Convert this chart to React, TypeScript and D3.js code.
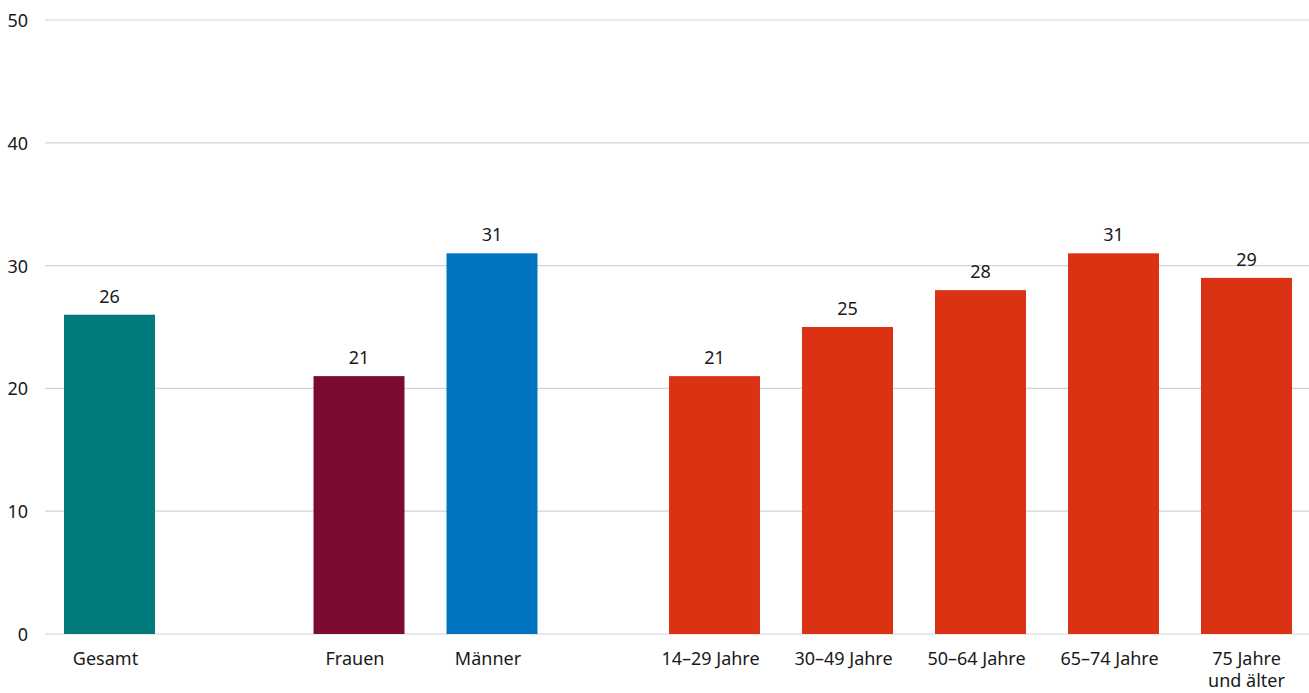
import * as d3 from "d3";

const categories = [
  "Gesamt",
  "Frauen",
  "Männer",
  "14–29 Jahre",
  "30–49 Jahre",
  "50–64 Jahre",
  "65–74 Jahre",
  "75 Jahre und älter",
];
const values = [26, 21, 31, 21, 25, 28, 31, 29];
const groups = [0, 1, 1, 2, 2, 2, 2, 2];
const groupColors = ["#007a7c", "#7b0b2f", "#0073c1", "#dc3214"];
const yTicks = [0, 10, 20, 30, 40, 50];

const width = 1309;
const height = 693;
const marginLeft = 45;
const marginTop = 20;
const marginBottom = 59;

// extra space between the groups, in bar slots
const groupGaps = [0, 0.876, 0.673];

const App = () => {
  // slot position of every bar: its index plus the gaps before its group
  const slots = categories.map((_, i) => {
    let gap = 0;
    for (let g = 1; g <= groups[i]; g++) gap += groupGaps[g];
    return i + gap;
  });
  const lastSlot = slots[slots.length - 1];
  const slotWidth = (width - marginLeft) / (lastSlot + 0.955);
  const x = d3
    .scaleLinear()
    .domain([0, lastSlot])
    .range([marginLeft + slotWidth * 0.485, width - slotWidth * 0.47]);
  const barWidth = slotWidth * 0.684;

  const y = d3
    .scaleLinear()
    .domain([0, 50])
    .range([height - marginBottom, marginTop]);

  const colorOf = (i: number) =>
    i === 0 ? groupColors[0] : i === 1 ? groupColors[1] : i === 2 ? groupColors[2] : groupColors[3];

  return (
    <svg
      width={width}
      height={height}
      style={{ position: "absolute", left: 0, top: 0 }}
      fontFamily="'Noto Sans', sans-serif"
    >
      <g>
        {yTicks.map((t) => (
          <g key={t}>
            <line
              x1={marginLeft}
              x2={width}
              y1={y(t)}
              y2={y(t)}
              stroke="#d3d3d3"
              strokeWidth={1.2}
            />
            <text
              x={28}
              y={y(t)}
              textAnchor="end"
              dominantBaseline="central"
              fontSize={18}
              fill="#1a1a1a"
            >
              {t}
            </text>
          </g>
        ))}
      </g>
      <g>
        {categories.map((c, i) => {
          const cx = x(slots[i]);
          return (
            <g key={c}>
              <rect
                x={cx - barWidth / 2}
                y={y(values[i])}
                width={barWidth}
                height={y(0) - y(values[i])}
                fill={colorOf(i)}
              />
              <text
                x={cx}
                y={y(values[i]) - 12}
                textAnchor="middle"
                fontSize={18}
                fill="#1a1a1a"
              >
                {values[i]}
              </text>
              <text
                x={cx - 4}
                y={y(0) + 31}
                textAnchor="middle"
                fontSize={18}
                fill="#1a1a1a"
              >
                {c === "75 Jahre und älter" ? (
                  <>
                    <tspan x={cx}>75 Jahre</tspan>
                    <tspan x={cx} dy={22}>
                      und älter
                    </tspan>
                  </>
                ) : (
                  c
                )}
              </text>
            </g>
          );
        })}
      </g>
    </svg>
  );
};

export default App;
